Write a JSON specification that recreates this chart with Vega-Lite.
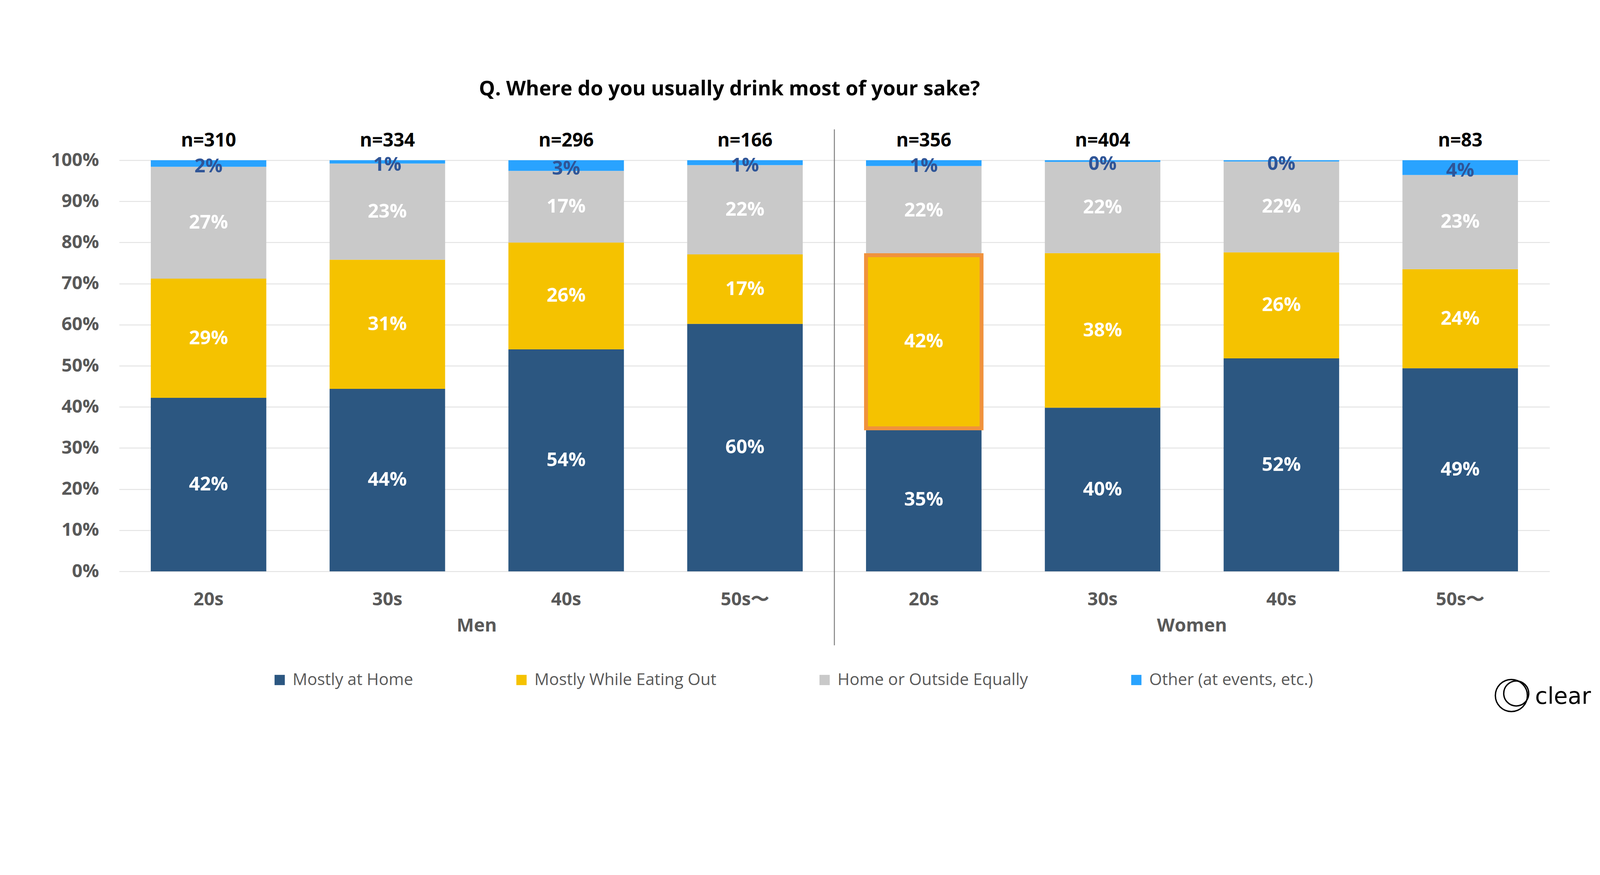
{
  "$schema": "https://vega.github.io/schema/vega-lite/v6.json",
  "width": 3662,
  "height": 1052,
  "autosize": {"type": "none"},
  "padding": {"left": 305, "top": 410, "right": 129, "bottom": 371},
  "background": "white",
  "title": {
    "text": "Q. Where do you usually drink most of your sake?",
    "anchor": "start",
    "frame": "group",
    "dx": 921,
    "offset": 34,
    "baseline": "alphabetic",
    "fontSize": 52,
    "font": "Open Sans",
    "fontWeight": "bold",
    "color": "#000000"
  },
  "datasets": {
    "bars": [
      {"grp": "Men 20s", "cat": "Mostly at Home", "opt": 1, "value": 0.422},
      {"grp": "Men 20s", "cat": "Mostly While Eating Out", "opt": 2, "value": 0.290},
      {"grp": "Men 20s", "cat": "Home or Outside Equally", "opt": 3, "value": 0.272},
      {"grp": "Men 20s", "cat": "Other (at events, etc.)", "opt": 4, "value": 0.016},
      {"grp": "Men 30s", "cat": "Mostly at Home", "opt": 1, "value": 0.444},
      {"grp": "Men 30s", "cat": "Mostly While Eating Out", "opt": 2, "value": 0.314},
      {"grp": "Men 30s", "cat": "Home or Outside Equally", "opt": 3, "value": 0.234},
      {"grp": "Men 30s", "cat": "Other (at events, etc.)", "opt": 4, "value": 0.008},
      {"grp": "Men 40s", "cat": "Mostly at Home", "opt": 1, "value": 0.540},
      {"grp": "Men 40s", "cat": "Mostly While Eating Out", "opt": 2, "value": 0.260},
      {"grp": "Men 40s", "cat": "Home or Outside Equally", "opt": 3, "value": 0.174},
      {"grp": "Men 40s", "cat": "Other (at events, etc.)", "opt": 4, "value": 0.026},
      {"grp": "Men 50s〜", "cat": "Mostly at Home", "opt": 1, "value": 0.602},
      {"grp": "Men 50s〜", "cat": "Mostly While Eating Out", "opt": 2, "value": 0.169},
      {"grp": "Men 50s〜", "cat": "Home or Outside Equally", "opt": 3, "value": 0.217},
      {"grp": "Men 50s〜", "cat": "Other (at events, etc.)", "opt": 4, "value": 0.012},
      {"grp": "Women 20s", "cat": "Mostly at Home", "opt": 1, "value": 0.348},
      {"grp": "Women 20s", "cat": "Mostly While Eating Out", "opt": 2, "value": 0.421},
      {"grp": "Women 20s", "cat": "Home or Outside Equally", "opt": 3, "value": 0.217},
      {"grp": "Women 20s", "cat": "Other (at events, etc.)", "opt": 4, "value": 0.014},
      {"grp": "Women 30s", "cat": "Mostly at Home", "opt": 1, "value": 0.398},
      {"grp": "Women 30s", "cat": "Mostly While Eating Out", "opt": 2, "value": 0.376},
      {"grp": "Women 30s", "cat": "Home or Outside Equally", "opt": 3, "value": 0.222},
      {"grp": "Women 30s", "cat": "Other (at events, etc.)", "opt": 4, "value": 0.004},
      {"grp": "Women 40s", "cat": "Mostly at Home", "opt": 1, "value": 0.518},
      {"grp": "Women 40s", "cat": "Mostly While Eating Out", "opt": 2, "value": 0.258},
      {"grp": "Women 40s", "cat": "Home or Outside Equally", "opt": 3, "value": 0.221},
      {"grp": "Women 40s", "cat": "Other (at events, etc.)", "opt": 4, "value": 0.003},
      {"grp": "Women 50s〜", "cat": "Mostly at Home", "opt": 1, "value": 0.494},
      {"grp": "Women 50s〜", "cat": "Mostly While Eating Out", "opt": 2, "value": 0.241},
      {"grp": "Women 50s〜", "cat": "Home or Outside Equally", "opt": 3, "value": 0.229},
      {"grp": "Women 50s〜", "cat": "Other (at events, etc.)", "opt": 4, "value": 0.036}
    ],
    "nlabels": [
      {"grp": "Men 20s", "label": "n=310"},
      {"grp": "Men 30s", "label": "n=334"},
      {"grp": "Men 40s", "label": "n=296"},
      {"grp": "Men 50s〜", "label": "n=166"},
      {"grp": "Women 20s", "label": "n=356"},
      {"grp": "Women 30s", "label": "n=404"},
      {"grp": "Women 50s〜", "label": "n=83"}
    ]
  },
  "data": {"name": "bars"},
  "layer": [
    {
      "mark": {"type": "bar"},
      "encoding": {
        "x": {
          "field": "grp", "type": "nominal",
          "scale": {"type": "band", "paddingInner": 0.354, "paddingOuter": 0.177},
          "axis": {
            "title": null, "labelExpr": "split(datum.label, ' ')[1]", "labelAngle": 0,
            "labelFontSize": 47, "labelFontWeight": "bold", "labelColor": "#595959",
            "labelBaseline": "middle", "labelPadding": 72, "ticks": false, "tickSize": 0,
            "domain": false, "grid": false
          }
        },
        "y": {
          "field": "value", "type": "quantitative", "stack": "zero",
          "scale": {"domain": [0, 1], "nice": false},
          "axis": {
            "title": null, "format": ".0%", "values": [0, 0.1, 0.2, 0.3, 0.4, 0.5, 0.6, 0.7, 0.8, 0.9, 1],
            "labelFontSize": 47, "labelFontWeight": "bold", "labelColor": "#595959",
            "labelPadding": 52, "ticks": false, "tickSize": 0, "domain": false,
            "grid": true, "gridColor": "#DEDEDE", "gridWidth": 2
          }
        },
        "color": {
          "field": "cat", "type": "nominal",
          "scale": {
            "domain": ["Mostly at Home", "Mostly While Eating Out", "Home or Outside Equally", "Other (at events, etc.)"],
            "range": ["#2C5781", "#F5C200", "#C9C9C9", "#29A3FF"]
          },
          "legend": {
            "title": null, "orient": "none", "legendX": 390, "legendY": 1309,
            "direction": "horizontal", "columns": 4, "symbolType": "square",
            "symbolSize": 690, "symbolStrokeWidth": 0, "labelFontSize": 42,
            "labelFont": "Open Sans", "labelColor": "#595959", "columnPadding": 256,
            "labelOffset": 12, "labelLimit": 0
          }
        },
        "order": {"field": "opt", "type": "quantitative", "sort": "ascending"}
      }
    },
    {
      "mark": {"type": "text", "fontSize": 49, "fontWeight": "bold", "font": "Open Sans", "baseline": "middle", "align": "center", "color": "#FFFFFF"},
      "encoding": {
        "x": {"field": "grp", "type": "nominal", "scale": {"type": "band"}},
        "y": {"field": "value", "type": "quantitative", "stack": "zero", "bandPosition": 0.5, "scale": {"domain": [0, 1], "nice": false}},
        "text": {"condition": {"test": "datum.opt == 4", "value": ""}, "field": "value", "type": "quantitative", "format": ".0%"},
        "order": {"field": "opt", "type": "quantitative", "sort": "ascending"}
      }
    },
    {
      "mark": {"type": "text", "fontSize": 49, "fontWeight": "bold", "font": "Open Sans", "baseline": "middle", "align": "center", "color": "#2F5597", "dy": 8},
      "encoding": {
        "x": {"field": "grp", "type": "nominal", "scale": {"type": "band"}},
        "y": {"field": "value", "type": "quantitative", "stack": "zero", "bandPosition": 0.5, "scale": {"domain": [0, 1], "nice": false}},
        "text": {"condition": {"test": "datum.opt != 4", "value": ""}, "field": "value", "type": "quantitative", "format": ".0%"},
        "order": {"field": "opt", "type": "quantitative", "sort": "ascending"}
      }
    },
    {
      "transform": [
        {"stack": "value", "groupby": ["grp"], "sort": [{"field": "opt", "order": "ascending"}], "as": ["v0", "v1"]},
        {"filter": "datum.grp == 'Women 20s' && datum.opt == 2"}
      ],
      "mark": {"type": "bar", "fill": null, "fillOpacity": 0, "stroke": "#F0923C", "strokeWidth": 10},
      "encoding": {
        "x": {"field": "grp", "type": "nominal", "scale": {"type": "band"}},
        "y": {"field": "v0", "type": "quantitative", "scale": {"domain": [0, 1], "nice": false}},
        "y2": {"field": "v1"}
      }
    },
    {
      "data": {"name": "nlabels"},
      "mark": {"type": "text", "fontSize": 48, "fontWeight": "bold", "font": "Open Sans", "baseline": "middle", "align": "center", "color": "#000000"},
      "encoding": {
        "x": {"field": "grp", "type": "nominal", "scale": {"type": "band"}},
        "y": {"datum": 1.047, "type": "quantitative", "scale": {"domain": [0, 1], "nice": false}},
        "text": {"field": "label", "type": "nominal"}
      }
    },
    {
      "data": {"values": [{"gender": "Men"}]},
      "mark": {"type": "text", "fontSize": 47, "fontWeight": "bold", "font": "Open Sans", "baseline": "middle", "align": "center", "color": "#595959"},
      "encoding": {
        "x": {"datum": "Men 30s", "type": "nominal", "bandPosition": 1.274, "scale": {"type": "band"}},
        "y": {"datum": -0.133, "type": "quantitative", "scale": {"domain": [0, 1], "nice": false}},
        "text": {"field": "gender", "type": "nominal"}
      }
    },
    {
      "data": {"values": [{"gender": "Women"}]},
      "mark": {"type": "text", "fontSize": 47, "fontWeight": "bold", "font": "Open Sans", "baseline": "middle", "align": "center", "color": "#595959"},
      "encoding": {
        "x": {"datum": "Women 30s", "type": "nominal", "bandPosition": 1.274, "scale": {"type": "band"}},
        "y": {"datum": -0.133, "type": "quantitative", "scale": {"domain": [0, 1], "nice": false}},
        "text": {"field": "gender", "type": "nominal"}
      }
    },
    {
      "data": {"values": [{"gender": "Women"}]},
      "mark": {"type": "rule", "color": "#7F7F7F", "strokeWidth": 2.5},
      "encoding": {
        "x": {"datum": "Women 20s", "type": "nominal", "bandPosition": -0.274, "scale": {"type": "band"}},
        "y": {"datum": 1.075, "type": "quantitative", "scale": {"domain": [0, 1], "nice": false}},
        "y2": {"datum": -0.18}
      }
    },
    {
      "data": {"values": [{"brand": "clear"}]},
      "mark": {"type": "point", "shape": "circle", "filled": false, "stroke": "#000000", "strokeWidth": 3.5, "size": 6724, "opacity": 1},
      "encoding": {
        "x": {"datum": "Women 50s〜", "type": "nominal", "bandPosition": 0.943, "scale": {"type": "band"}},
        "y": {"datum": -0.302, "type": "quantitative", "scale": {"domain": [0, 1], "nice": false}}
      }
    },
    {
      "data": {"values": [{"brand": "clear"}]},
      "mark": {"type": "point", "shape": "circle", "filled": false, "stroke": "#000000", "strokeWidth": 3.5, "size": 4096, "opacity": 1},
      "encoding": {
        "x": {"datum": "Women 50s〜", "type": "nominal", "bandPosition": 0.985, "scale": {"type": "band"}},
        "y": {"datum": -0.297, "type": "quantitative", "scale": {"domain": [0, 1], "nice": false}}
      }
    },
    {
      "data": {"values": [{"brand": "clear"}]},
      "mark": {"type": "text", "fontSize": 58, "fontWeight": "normal", "font": "DejaVu Sans", "baseline": "middle", "align": "center", "color": "#000000"},
      "encoding": {
        "x": {"datum": "Women 50s〜", "type": "nominal", "bandPosition": 1.39, "scale": {"type": "band"}},
        "y": {"datum": -0.306, "type": "quantitative", "scale": {"domain": [0, 1], "nice": false}},
        "text": {"field": "brand", "type": "nominal"}
      }
    }
  ],
  "config": {
    "font": "Open Sans",
    "view": {"stroke": null}
  }
}
